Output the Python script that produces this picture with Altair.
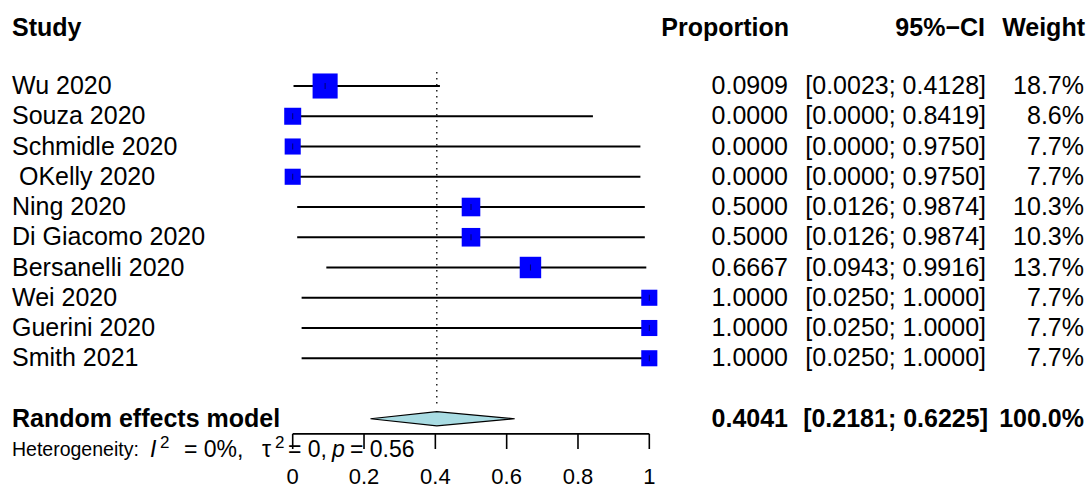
import altair as alt
import pandas as pd

# Study-level results (proportion, 95% CI, random-effects weight in %)
studies = ["Wu 2020", "Souza 2020", "Schmidle 2020", "\u200b\u00a0OKelly 2020", "Ning 2020",
           "Di Giacomo 2020", "Bersanelli 2020", "Wei 2020", "Guerini 2020", "Smith 2021"]
proportion = [0.0909, 0.0000, 0.0000, 0.0000, 0.5000, 0.5000, 0.6667, 1.0000, 1.0000, 1.0000]
ci_lower = [0.0023, 0.0000, 0.0000, 0.0000, 0.0126, 0.0126, 0.0943, 0.0250, 0.0250, 0.0250]
ci_upper = [0.4128, 0.8419, 0.9750, 0.9750, 0.9874, 0.9874, 0.9916, 1.0000, 1.0000, 1.0000]
weight = [18.7, 8.6, 7.7, 7.7, 10.3, 10.3, 13.7, 7.7, 7.7, 7.7]

# Pooled random-effects estimate and heterogeneity statistics
pooled_est, pooled_lo, pooled_hi, pooled_w = 0.4041, 0.2181, 0.6225, 100.0
i2_pct, tau2, p_het = 0, 0, 0.56

# Axis ticks
tick_values = [0, 0.2, 0.4, 0.6, 0.8, 1]
tick_labels = ["0", "0.2", "0.4", "0.6", "0.8", "1"]

W, H = 1089, 488
FONT = "Liberation Sans, Arial, Helvetica, sans-serif"
FS = 25

# Row layout: each study on its own line, pooled estimate two lines below the last study
ROW_POOLED = len(studies) + 1
x_scale = alt.Scale(domain=[-0.8208, 2.2330], nice=False, zero=False)
y_scale = alt.Scale(domain=[-2.843, 13.289], nice=False, zero=False, reverse=True)

df = pd.DataFrame({
    "study": studies,
    "prop": proportion,
    "lo": ci_lower,
    "hi": ci_upper,
    "w": weight,
})
df["row"] = range(len(df))
df["area"] = df["w"] * 33.6
df["prop_txt"] = df["prop"].map(lambda v: f"{v:.4f}")
df["ci_txt"] = df.apply(lambda r: f"[{r.lo:.4f}; {r.hi:.4f}]", axis=1)
df["w_txt"] = df["w"].map(lambda v: f"{v:.1f}%")

X = lambda f: alt.X(f, type="quantitative", scale=x_scale, axis=None)
Y = lambda f: alt.Y(f, type="quantitative", scale=y_scale, axis=None)

base = alt.Chart(df)

# Reference line at the pooled estimate
ref = alt.Chart(pd.DataFrame({"x": [pooled_est], "y": [-0.46], "y2": [ROW_POOLED - 0.36]})).mark_rule(
    color="black", strokeWidth=1.3, strokeDash=[1.5, 4.5]
).encode(x=X("x"), y=Y("y"), y2="y2")

ci_lines = base.mark_rule(color="black", strokeWidth=1.8).encode(x=X("lo"), x2="hi", y=Y("row"))

squares = base.mark_square(color="#0000FF", opacity=1).encode(
    x=X("prop"), y=Y("row"), size=alt.Size("area:Q", scale=None, legend=None)
)

centers = base.mark_tick(orient="vertical", color="#000033", size=6, thickness=1).encode(
    x=X("prop"), y=Y("row")
)

# Pooled-estimate diamond
half = 0.233
diamond_df = pd.DataFrame({
    "x": [pooled_lo, pooled_est, pooled_hi],
    "y": [ROW_POOLED, ROW_POOLED - half, ROW_POOLED],
    "y2": [ROW_POOLED, ROW_POOLED + half, ROW_POOLED],
})
diamond = alt.Chart(diamond_df).mark_area(
    color="#A9DCE3", stroke="black", strokeWidth=1.2, opacity=1, orient="vertical"
).encode(x=X("x"), y=Y("y"), y2="y2")

# Hand-built x axis beneath the pooled row
AX_Y = ROW_POOLED + 0.5
axis_line = alt.Chart(pd.DataFrame({"x": [0], "x2": [1], "y": [AX_Y]})).mark_rule(
    color="black", strokeWidth=1.6
).encode(x=X("x"), x2="x2", y=Y("y"))

tick_df = pd.DataFrame({"x": tick_values, "label": tick_labels, "y": AX_Y, "y2": AX_Y + 0.5,
                        "ly": AX_Y + 1.41})
ticks = alt.Chart(tick_df).mark_rule(color="black", strokeWidth=1.6).encode(
    x=X("x"), y=Y("y"), y2="y2"
)
tick_text = alt.Chart(tick_df).mark_text(font=FONT, fontSize=22, color="black", baseline="middle").encode(
    x=X("x"), y=Y("ly"), text="label"
)

# Text columns
def col_text(field, xpx, align, bold=False, data=None):
    src = base if data is None else alt.Chart(data)
    return src.mark_text(
        font=FONT, fontSize=FS, color="black", align=align, baseline="middle",
        fontWeight="bold" if bold else "normal"
    ).encode(x=alt.value(xpx), y=Y("row"), text=field)

study_txt = col_text("study", 12, "left")
prop_txt = col_text("prop_txt", 788, "right")
ci_txt = col_text("ci_txt", 986, "right")
w_txt = col_text("w_txt", 1084, "right")

head_df = pd.DataFrame({"row": [-1.92], "a": ["Study"], "b": ["Proportion"], "c": ["95%\u2212CI"], "d": ["Weight"]})
head = [
    col_text("a", 12, "left", True, head_df),
    col_text("b", 789, "right", True, head_df),
    col_text("c", 985, "right", True, head_df),
    col_text("d", 1085, "right", True, head_df),
]

pooled_df = pd.DataFrame({
    "row": [ROW_POOLED],
    "a": ["Random effects model"],
    "b": [f"{pooled_est:.4f}"],
    "c": [f"[{pooled_lo:.4f}; {pooled_hi:.4f}]"],
    "d": [f"{pooled_w:.1f}%"],
})
pooled = [
    col_text("a", 12, "left", True, pooled_df),
    col_text("b", 788, "right", True, pooled_df),
    col_text("c", 988, "right", True, pooled_df),
    col_text("d", 1084, "right", True, pooled_df),
]

# Heterogeneity line, built from pieces so I and p can be italic
HET_ROW = ROW_POOLED + 1.03
SUP = -0.22
het_pieces = [
    ("Heterogeneity:", 12, 0, "normal", 19.5),
    ("I", 150, 0, "italic", 23),
    ("2", 160, SUP, "normal", 17),
    ("= " + f"{i2_pct}%,", 184, 0, "normal", 23),
    ("\u03c4", 262, 0, "normal", 23),
    ("2", 275, SUP, "normal", 17),
    ("= " + f"{tau2},", 288, 0, "normal", 23),
    ("p", 332, 0, "italic", 23),
    ("= " + f"{p_het}", 350, 0, "normal", 23),
]
het_layers = []
for txt, xpx, dy, style, fs in het_pieces:
    d = pd.DataFrame({"row": [HET_ROW + dy], "t": [txt]})
    het_layers.append(
        alt.Chart(d).mark_text(font=FONT, fontSize=fs, fontStyle=style, color="black",
                               align="left", baseline="middle").encode(
            x=alt.value(xpx), y=Y("row"), text="t")
    )

chart = alt.layer(
    ref, ci_lines, diamond, axis_line, ticks, tick_text, squares, centers,
    study_txt, prop_txt, ci_txt, w_txt, *head, *pooled, *het_layers
).properties(
    width=W, height=H, padding=0, autosize=alt.AutoSizeParams(type="none"), background="white"
).configure_view(stroke=None)

chart.save("out.html", embed_options={"renderer": "svg", "actions": False})
